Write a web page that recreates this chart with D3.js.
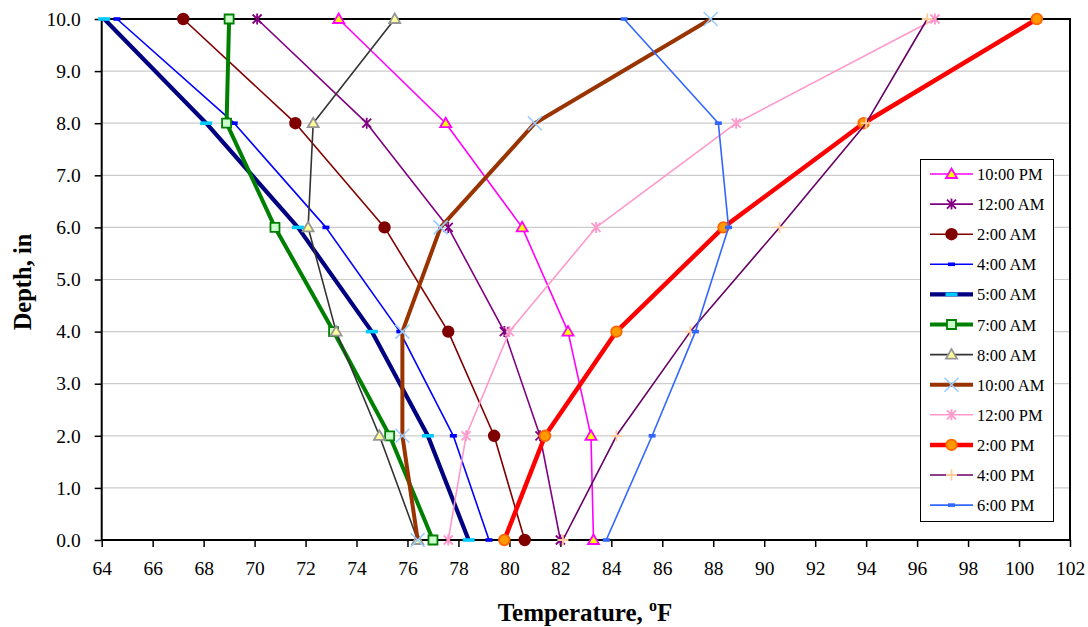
<!DOCTYPE html>
<html>
<head>
<meta charset="utf-8">
<script src="https://cdn.jsdelivr.net/npm/d3@7"></script>
<style>
  body { margin: 0; background: #fff; }
  text { font-family: "Liberation Serif", "Times New Roman", serif; fill: #000; }
</style>
</head>
<body>
<svg id="chart" width="1088" height="627"></svg>
<script>
// depth of each reading (in)
const depths = [10, 8, 6, 4, 2, 0];

const seriesNames = ["10:00 PM", "12:00 AM", "2:00 AM", "4:00 AM", "5:00 AM", "7:00 AM",
  "8:00 AM", "10:00 AM", "12:00 PM", "2:00 PM", "4:00 PM", "6:00 PM"];

// temperatures (F), same order as depths
const temp10pm = [73.3, 77.5, 80.5, 82.3, 83.2, 83.3];
const temp12am = [70.1, 74.4, 77.6, 79.8, 81.2, 82.0];
const temp2am  = [67.2, 71.6, 75.1, 77.6, 79.4, 80.6];
const temp4am  = [64.6, 69.2, 72.8, 75.7, 77.8, 79.2];
const temp5am  = [64.1, 68.1, 71.7, 74.6, 76.8, 78.4];
const temp7am  = [69.0, 68.9, 70.8, 73.1, 75.3, 77.0];
const temp8am  = [75.5, 72.3, 72.1, 73.2, 74.9, 76.4];
const temp10am = [87.9, 81.0, 77.3, 75.8, 75.8, 76.4];
const temp12pm = [96.7, 88.9, 83.4, 80.0, 78.3, 77.6];
const temp2pm  = [100.7, 93.9, 88.4, 84.2, 81.4, 79.8];
const temp4pm  = [96.4, 94.0, 90.6, 87.1, 84.2, 82.1];
const temp6pm  = [84.5, 88.2, 88.6, 87.3, 85.6, 83.8];

const allTemps = [temp10pm, temp12am, temp2am, temp4am, temp5am, temp7am,
  temp8am, temp10am, temp12pm, temp2pm, temp4pm, temp6pm];

const xTicks = d3.range(64, 103, 2);
const yTicks = d3.range(0, 11, 1);

// look of each series
const styles = [
  {line: "#FF00FF", w: 1.6, marker: "triangle", fill: "#FFFF00", stroke: "#FF00FF"},
  {line: "#800080", w: 1.6, marker: "star", fill: "none", stroke: "#800080"},
  {line: "#800000", w: 1.6, marker: "circle", fill: "#800000", stroke: "#800000"},
  {line: "#0000FF", w: 1.6, marker: "dash", fill: "#0000FF", stroke: "none", dw: 7},
  {line: "#000080", w: 4.2, marker: "dash", fill: "#00CCFF", stroke: "none", dw: 12},
  {line: "#008000", w: 4, marker: "square", fill: "#CCFFCC", stroke: "#008000"},
  {line: "#333333", w: 1.6, marker: "triangle", fill: "#FFFF99", stroke: "#969696"},
  {line: "#993300", w: 4, marker: "x", fill: "none", stroke: "#99CCFF"},
  {line: "#FF99CC", w: 1.6, marker: "star", fill: "none", stroke: "#FF99CC"},
  {line: "#FF0000", w: 4.5, marker: "circle", fill: "#FF9900", stroke: "#FF6600"},
  {line: "#660066", w: 1.6, marker: "plus", fill: "none", stroke: "#FFCC99"},
  {line: "#3366FF", w: 1.6, marker: "dash", fill: "#3366FF", stroke: "none", dw: 7}
];

const svg = d3.select("#chart");
const plotLeft = 101.7, plotRight = 1070, plotTop = 19, plotBottom = 540;

const xScale = d3.scaleLinear().domain([64, 102]).range([plotLeft, plotRight]);
const yScale = d3.scaleLinear().domain([0, 10]).range([plotBottom, plotTop]);

// gridlines
svg.append("g")
  .selectAll("line")
  .data(yTicks.filter(d => d > 0 && d < 10))
  .enter().append("line")
  .attr("x1", plotLeft).attr("x2", plotRight)
  .attr("y1", d => yScale(d)).attr("y2", d => yScale(d))
  .style("stroke", "#cccccc").style("stroke-width", 1.2);

// plot frame (top and right)
svg.append("path")
  .attr("d", `M${plotLeft},${plotTop}H${plotRight}V${plotBottom}`)
  .style("fill", "none").style("stroke", "#000").style("stroke-width", 2);

// axes
const xAxis = d3.axisBottom(xScale).tickValues(xTicks).tickSize(7).tickPadding(14).tickFormat(d3.format("d"));
const yAxis = d3.axisLeft(yScale).tickValues(yTicks).tickSize(7).tickPadding(14).tickFormat(d3.format(".1f"));

const gx = svg.append("g").attr("transform", `translate(0,${plotBottom})`).call(xAxis);
const gy = svg.append("g").attr("transform", `translate(${plotLeft},0)`).call(yAxis);

[gx, gy].forEach(g => {
  g.select(".domain").style("stroke", "#000").style("stroke-width", 2);
  g.selectAll(".tick line").style("stroke", "#000").style("stroke-width", 1.5);
  g.selectAll(".tick text")
    .style("font-family", "'Liberation Serif', 'Times New Roman', serif")
    .style("font-size", "19.5px").style("fill", "#000");
});
gx.select(".domain").attr("d", `M${plotLeft},0H${plotRight}`);
gy.select(".domain").attr("d", `M0,${plotBottom}V${plotTop}`);

// markers
function markerPath(type) {
  if (type === "triangle") return "M0,-5.5L5.5,4L-5.5,4Z";
  if (type === "circle") return d3.symbol(d3.symbolCircle, Math.PI * 5.3 * 5.3)();
  if (type === "square") return "M-4.5,-4.5h9v9h-9z";
  if (type === "star") return "M-4.5,-4.5L4.5,4.5M-4.5,4.5L4.5,-4.5M0,-5.5V5.5";
  if (type === "x") return "M-7,-7L7,7M-7,7L7,-7";
  if (type === "plus") return "M-5.5,0H5.5M0,-5.5V5.5";
  return null;
}

function drawMarker(g, st, x, y) {
  if (st.marker === "dash") {
    g.append("rect")
      .attr("x", x - st.dw / 2).attr("y", y - 1.8)
      .attr("width", st.dw).attr("height", 3.6)
      .style("fill", st.fill);
    return;
  }
  g.append("path")
    .attr("transform", `translate(${x},${y})`)
    .attr("d", markerPath(st.marker))
    .style("fill", st.fill)
    .style("stroke", st.stroke)
    .style("stroke-width", st.marker === "x" ? 1.6 : 1.8);
}

const lineGen = d3.line()
  .x(d => xScale(d.t))
  .y(d => yScale(d.depth));

const plot = svg.append("g");

allTemps.forEach((temps, i) => {
  const st = styles[i];
  const pts = temps.map((t, j) => ({t: t, depth: depths[j]}));
  const g = plot.append("g").attr("class", "series");

  g.append("path")
    .datum(pts)
    .attr("d", lineGen)
    .style("fill", "none")
    .style("stroke", st.line)
    .style("stroke-width", st.w)
    .style("stroke-linejoin", "round");

  pts.forEach(p => drawMarker(g, st, xScale(p.t), yScale(p.depth)));
});

// legend
const legend = svg.append("g");
legend.append("rect")
  .attr("x", 920.5).attr("y", 159.5)
  .attr("width", 133).attr("height", 362)
  .style("fill", "#fff").style("stroke", "#000").style("stroke-width", 1);

seriesNames.forEach((name, i) => {
  const st = styles[i];
  const y = 174 + i * 30.1;
  const g = legend.append("g");
  g.append("line")
    .attr("x1", 930).attr("x2", 973)
    .attr("y1", y).attr("y2", y)
    .style("stroke", st.line)
    .style("stroke-width", st.w);
  drawMarker(g, st, 951.5, y);
  g.append("text")
    .attr("x", 977).attr("y", y + 6)
    .style("font-size", "16.5px")
    .text(name);
});

// axis titles
svg.append("text")
  .attr("transform", "translate(31,282) rotate(-90)")
  .attr("text-anchor", "middle")
  .style("font-size", "24.5px").style("font-weight", "bold")
  .text("Depth, in");

const xt = svg.append("text")
  .attr("x", 585).attr("y", 621)
  .attr("text-anchor", "middle")
  .style("font-size", "25px").style("font-weight", "bold");
xt.append("tspan").text("Temperature, ");
xt.append("tspan").attr("dy", -10).style("font-size", "16px").text("o");
xt.append("tspan").attr("dy", 10).text("F");
</script>
</body>
</html>
